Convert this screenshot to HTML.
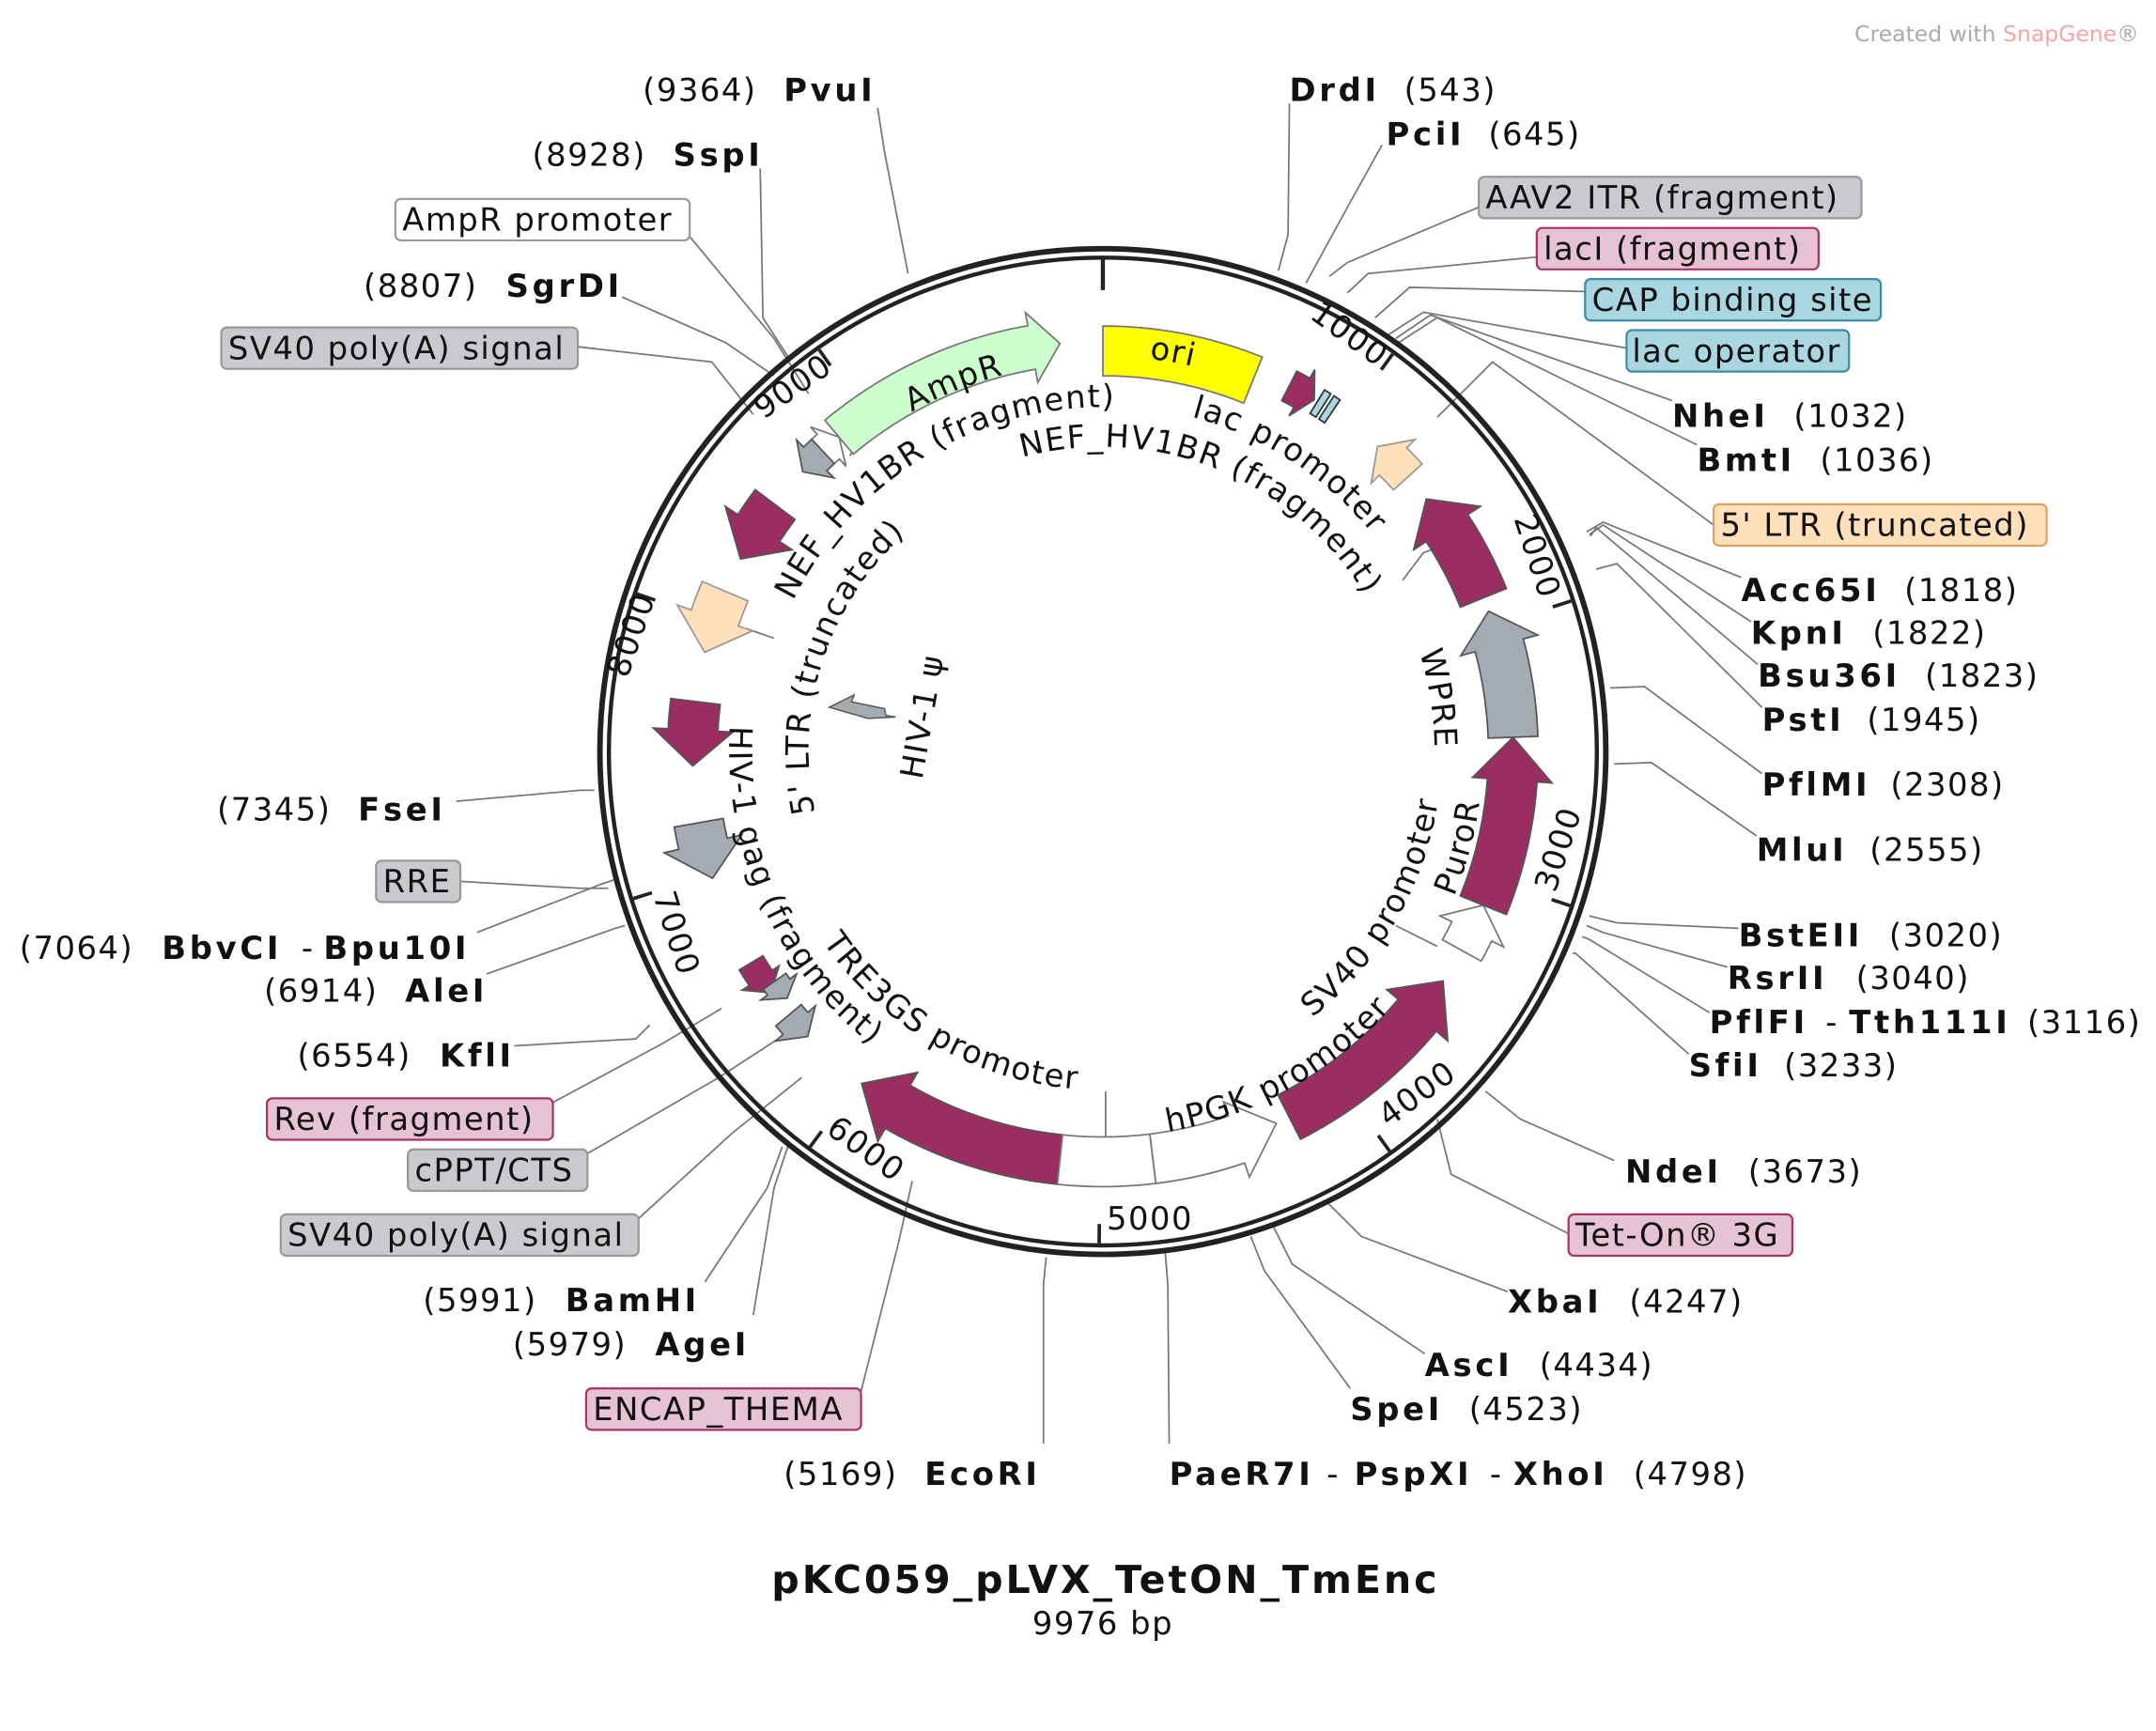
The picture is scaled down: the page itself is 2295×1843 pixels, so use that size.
<!DOCTYPE html>
<html><head><meta charset="utf-8">
<style>
html,body{margin:0;padding:0;background:#fff;}
svg{display:block;}
text{font-family:"DejaVu Sans","Liberation Sans",sans-serif;font-size:23px;fill:#111;letter-spacing:1px;}
.b{font-weight:bold;letter-spacing:2.5px;}
.ln{stroke:#777;stroke-width:1.2;fill:none;}
</style></head>
<body>
<svg id="s" width="2295" height="1843" viewBox="0 0 1560 1253" xmlns="http://www.w3.org/2000/svg" xmlns:xlink="http://www.w3.org/1999/xlink">
<defs id="defs"></defs>
<rect width="1560" height="1253" fill="#fff"/>
<text x="1342" y="30" style="font-size:16px;fill:#aaa;letter-spacing:0">Created with <tspan style="fill:#f4a6a6">SnapGene</tspan>®</text>

<g class="ln">
<polyline points="635,78 640,110 657,198"/>
<polyline points="550,122 552,230 570,258"/>
<polyline points="498,170 560,245 585,285"/>
<polyline points="450,215 525,248 560,272"/>
<polyline points="418,251 515,262 545,300"/>
<polyline points="933,75 932,170 925,196"/>
<polyline points="1000,105 975,150 945,205"/>
<polyline points="1070,150 975,190 962,200"/>
<polyline points="1112,186 990,198 975,212"/>
<polyline points="1147,211 1020,208 995,230"/>
<polyline points="1177,252 1030,226 1005,242"/>
<polyline points="1210,290 1035,228 1010,245"/>
<polyline points="1228,322 1040,230 1012,248"/>
<polyline points="1240,380 1080,262 1040,302"/>
<polyline points="1260,418 1160,378 1148,385"/>
<polyline points="1267,450 1160,380 1150,387"/>
<polyline points="1272,481 1155,382 1151,388"/>
<polyline points="1275,512 1170,408 1155,412"/>
<polyline points="1275,560 1190,497 1165,498"/>
<polyline points="1271,605 1195,552 1168,553"/>
<polyline points="1258,672 1170,668 1150,663"/>
<polyline points="1250,700 1160,675 1148,670"/>
<polyline points="1237,733 1150,680 1145,678"/>
<polyline points="1222,763 1140,690 1138,690"/>
<polyline points="1168,840 1100,810 1075,790"/>
<polyline points="1135,893 1050,850 1040,810"/>
<polyline points="1091,935 985,895 960,870"/>
<polyline points="1031,980 935,915 920,885"/>
<polyline points="977,1005 915,920 905,895"/>
<polyline points="846,1045 845,930 843,905"/>
<polyline points="755,1045 755,930 757,910"/>
<polyline points="623,1007 650,900 660,855"/>
<polyline points="545,952 560,860 570,830"/>
<polyline points="510,928 555,860 566,830"/>
<polyline points="462,882 530,820 580,780"/>
<polyline points="425,835 520,780 563,752"/>
<polyline points="400,798 480,755 522,730"/>
<polyline points="372,757 460,752 470,742"/>
<polyline points="352,705 445,672 452,670"/>
<polyline points="345,675 435,640 447,636"/>
<polyline points="333,638 420,643 440,643"/>
<polyline points="330,580 420,572 430,572"/>
<polyline points="1015,420 1030,400 1045,395"/>
<polyline points="800,790 800,825"/>
<polyline points="1010,670 1040,685"/>
<polyline points="540,455 560,462"/>
<polyline points="620,320 615,330"/>
</g>

<circle cx="798" cy="544" r="364" fill="none" stroke="#222" stroke-width="4"/>
<circle cx="798" cy="544" r="357.5" fill="none" stroke="#222" stroke-width="3"/>
<g id="ticks" stroke="#222" stroke-width="3"></g>
<g id="feat"></g>
<polygon points="600,512 618,503 616,508 640,513 641,518 648,519 628,520" fill="#a4abb3" stroke="#555" stroke-width="1"/>

<g style="font-size:22px">
<text transform="translate(972,248) rotate(36)" text-anchor="middle">1000</text>
<text transform="translate(1105,405) rotate(72)" text-anchor="middle">2000</text>
<text transform="translate(1135,617) rotate(-72)" text-anchor="middle">3000</text>
<text transform="translate(1030,798) rotate(-36)" text-anchor="middle">4000</text>
<text transform="translate(832,890)" text-anchor="middle">5000</text>
<text transform="translate(622,838) rotate(36)" text-anchor="middle">6000</text>
<text transform="translate(482,678) rotate(72)" text-anchor="middle">7000</text>
<text transform="translate(464,462) rotate(-71)" text-anchor="middle">8000</text>
<text transform="translate(578,286) rotate(-35)" text-anchor="middle">9000</text>
</g>

<g text-anchor="middle">
<text><textPath href="#pAmp" xlink:href="#pAmp" startOffset="50%">AmpR</textPath></text>
<text><textPath href="#pOri" xlink:href="#pOri" startOffset="50%">ori</textPath></text>
<text><textPath href="#pNef1" xlink:href="#pNef1" startOffset="50%">NEF_HV1BR (fragment)</textPath></text>
<text><textPath href="#pLac" xlink:href="#pLac" startOffset="50%">lac promoter</textPath></text>
<text><textPath href="#pNef2" xlink:href="#pNef2" startOffset="50%">NEF_HV1BR (fragment)</textPath></text>
<text><textPath href="#pLtr" xlink:href="#pLtr" startOffset="50%">5' LTR (truncated)</textPath></text>
<text><textPath href="#pGag" xlink:href="#pGag" startOffset="50%">HIV-1 gag (fragment)</textPath></text>
<text><textPath href="#pTre" xlink:href="#pTre" startOffset="50%">TRE3GS promoter</textPath></text>
<text><textPath href="#pPgk" xlink:href="#pPgk" startOffset="50%">hPGK promoter</textPath></text>
<text><textPath href="#pSv" xlink:href="#pSv" startOffset="50%">SV40 promoter</textPath></text>
<text><textPath href="#pPuro" xlink:href="#pPuro" startOffset="50%">PuroR</textPath></text>
<text><textPath href="#pWpre" xlink:href="#pWpre" startOffset="50%">WPRE</textPath></text>
<text transform="translate(675,520) rotate(-80)">HIV-1 ψ</text>
</g>

<g stroke-width="1.5">
<rect x="286" y="144" width="213" height="30" rx="4" fill="#fff" stroke="#999"/>
<rect x="160" y="237" width="258" height="30" rx="4" fill="#c8cacd" stroke="#999"/>
<rect x="1070" y="128" width="277" height="30" rx="4" fill="#c8cacd" stroke="#999"/>
<rect x="1112" y="165" width="204" height="30" rx="4" fill="#e6c3d3" stroke="#a83366"/>
<rect x="1147" y="202" width="214" height="30" rx="4" fill="#a9d6e0" stroke="#3a8ca6"/>
<rect x="1177" y="239" width="161" height="30" rx="4" fill="#a9d6e0" stroke="#3a8ca6"/>
<rect x="1240" y="365" width="241" height="30" rx="4" fill="#ffe0bb" stroke="#e0a060"/>
<rect x="1135" y="879" width="162" height="30" rx="4" fill="#e6c3d3" stroke="#a83366"/>
<rect x="424" y="1005" width="199" height="30" rx="4" fill="#e6c3d3" stroke="#a83366"/>
<rect x="203" y="879" width="259" height="30" rx="4" fill="#c8cacd" stroke="#999"/>
<rect x="295" y="832" width="130" height="30" rx="4" fill="#c8cacd" stroke="#999"/>
<rect x="193" y="795" width="207" height="30" rx="4" fill="#e6c3d3" stroke="#a83366"/>
<rect x="272" y="623" width="61" height="30" rx="4" fill="#c8cacd" stroke="#999"/>
</g>

<g>
<text x="465" y="73">(9364)</text><text class="b" x="567" y="73">PvuI</text>
<text x="385" y="120">(8928)</text><text class="b" x="487" y="120">SspI</text>
<text x="291" y="167">AmpR promoter</text>
<text x="263" y="215">(8807)</text><text class="b" x="366" y="215">SgrDI</text>
<text x="165" y="260">SV40 poly(A) signal</text>

<text class="b" x="933" y="73">DrdI</text><text x="1016" y="73">(543)</text>
<text class="b" x="1003" y="105">PciI</text><text x="1077" y="105">(645)</text>
<text x="1075" y="151">AAV2 ITR (fragment)</text>
<text x="1117" y="188">lacI (fragment)</text>
<text x="1152" y="225">CAP binding site</text>
<text x="1181" y="262">lac operator</text>
<text class="b" x="1210" y="309">NheI</text><text x="1298" y="309">(1032)</text>
<text class="b" x="1228" y="341">BmtI</text><text x="1317" y="341">(1036)</text>
<text x="1245" y="388">5' LTR (truncated)</text>
<text class="b" x="1260" y="435">Acc65I</text><text x="1378" y="435">(1818)</text>
<text class="b" x="1267" y="466">KpnI</text><text x="1355" y="466">(1822)</text>
<text class="b" x="1272" y="497">Bsu36I</text><text x="1393" y="497">(1823)</text>
<text class="b" x="1275" y="529">PstI</text><text x="1351" y="529">(1945)</text>
<text class="b" x="1275" y="576">PflMI</text><text x="1368" y="576">(2308)</text>
<text class="b" x="1271" y="623">MluI</text><text x="1353" y="623">(2555)</text>
<text class="b" x="1258" y="685">BstEII</text><text x="1367" y="685">(3020)</text>
<text class="b" x="1250" y="716">RsrII</text><text x="1343" y="716">(3040)</text>
<text class="b" x="1237" y="748">PflFI</text><text x="1321" y="748">-</text><text class="b" x="1338" y="748">Tth111I</text><text x="1467" y="748">(3116)</text>
<text class="b" x="1222" y="779">SfiI</text><text x="1291" y="779">(3233)</text>
<text class="b" x="1176" y="856">NdeI</text><text x="1265" y="856">(3673)</text>
<text x="1140" y="902">Tet-On® 3G</text>
<text class="b" x="1091" y="950">XbaI</text><text x="1179" y="950">(4247)</text>
<text class="b" x="1031" y="996">AscI</text><text x="1114" y="996">(4434)</text>
<text class="b" x="977" y="1028">SpeI</text><text x="1063" y="1028">(4523)</text>
<text class="b" x="846" y="1075">PaeR7I</text><text x="960" y="1075">-</text><text class="b" x="980" y="1075">PspXI</text><text x="1078" y="1075">-</text><text class="b" x="1095" y="1075">XhoI</text><text x="1182" y="1075">(4798)</text>
<text x="567" y="1075">(5169)</text><text class="b" x="669" y="1075">EcoRI</text>
<text x="429" y="1028">ENCAP_THEMA</text>
<text x="371" y="981">(5979)</text><text class="b" x="474" y="981">AgeI</text>
<text x="306" y="949">(5991)</text><text class="b" x="409" y="949">BamHI</text>
<text x="208" y="902">SV40 poly(A) signal</text>
<text x="300" y="855">cPPT/CTS</text>
<text x="198" y="818">Rev (fragment)</text>
<text x="215" y="772">(6554)</text><text class="b" x="318" y="772">KflI</text>
<text x="191" y="725">(6914)</text><text class="b" x="293" y="725">AleI</text>
<text x="14" y="694">(7064)</text><text class="b" x="117" y="694">BbvCI</text><text x="218" y="694">-</text><text class="b" x="234" y="694">Bpu10I</text>
<text x="277" y="646">RRE</text>
<text x="157" y="594">(7345)</text><text class="b" x="259" y="594">FseI</text>

<text class="b" x="800" y="1153" text-anchor="middle" style="font-size:28px;letter-spacing:2px">pKC059_pLVX_TetON_TmEnc</text>
<text x="798" y="1183" text-anchor="middle">9976 bp</text>
</g>

<script>
(function(){
var cx=798,cy=544,NS="http://www.w3.org/2000/svg";
function P(a,r){var t=a*Math.PI/180;return [(cx+r*Math.sin(t)).toFixed(2),(cy-r*Math.cos(t)).toFixed(2)];}
function arrow(a1,a2,r,w,h,fill,stroke){
  var s=a2>a1?1:-1, ah=h>0?a2-s*h:a2, sw=s>0?1:0, sw2=1-sw;
  var large=Math.abs(ah-a1)>180?1:0;
  var d="M"+P(a1,r+w)+" A"+(r+w)+","+(r+w)+" 0 "+large+" "+sw+" "+P(ah,r+w);
  if(h>0){d+=" L"+P(ah,r+w*1.6)+" L"+P(a2,r)+" L"+P(ah,r-w*1.6)+" L"+P(ah,r-w);}
  else{d+=" L"+P(ah,r-w);}
  d+=" A"+(r-w)+","+(r-w)+" 0 "+large+" "+sw2+" "+P(a1,r-w)+" Z";
  var p=document.createElementNS(NS,"path");p.setAttribute("d",d);
  p.setAttribute("fill",fill);p.setAttribute("stroke",stroke||"#555");p.setAttribute("stroke-width","1.2");
  document.getElementById("feat").appendChild(p);
}
function arc(id,c,r,cw){
  var a1=cw?c-90:c+90,a2=cw?c+90:c-90;
  var d="M"+P(a1,r)+" A"+r+","+r+" 0 0 "+(cw?1:0)+" "+P(a2,r);
  var p=document.createElementNS(NS,"path");p.setAttribute("id",id);p.setAttribute("d",d);p.setAttribute("fill","none");
  document.getElementById("defs").appendChild(p);
}
arc("pAmp",-22,282,1);
arc("pOri",10,288,1);
arc("pNef1",-31,250,1);
arc("pLac",33,252,1);
arc("pNef2",22,222,1);
arc("pLtr",-72,213,1);
arc("pGag",246,272,0);
arc("pTre",210,245,0);
arc("pPgk",151,280,0);
arc("pSv",120,246,0);
arc("pPuro",105,275,0);
arc("pWpre",81,240,1);

var M="#9b2d62",G="#a4abb3",PE="#ffe0bb",W="#ffffff";
arrow(0,22,290,18,0,"#ffff00","#777");
arrow(-40,-6,297,16,4,"#ccffcc","#777");
arrow(-43,-40,297,12,2,W,"#777");
arrow(-43,-47,297,12,2.5,G);
arrow(-53,-62,297,18,5,M);
arrow(-67,-76,297,18,5,PE,"#999");
arrow(-83,-92,297,18,5,M);
arrow(-100,-108,297,18,5,G);
arrow(-121,-126,297,10,2.5,M);
arrow(-125,-128,290,10,2,G);
arrow(-130,-134,297,12,2.5,G);
arrow(186,216,297,18,6,M);
arrow(173,186,297,18,0,W,"#777");
arrow(173,155,297,18,6,W,"#777");
arrow(153,124,297,18,6,M);
arrow(119,112,297,16,4,W,"#777");
arrow(112,88,297,18,6,M);
arrow(88,70,297,18,5,G);
arrow(68,52,297,18,5,M);
arrow(48,42,297,14,3,PE,"#999");
arrow(27,31,297,12,2,M);
arrow(31.5,32.5,297,10,0,"#a9d6e0","#333");
arrow(33,34,297,10,0,"#a9d6e0","#333");
var tg=document.getElementById("ticks");
function tick(a,r1,r2,sw){var p1=P(a,r1),p2=P(a,r2);var l=document.createElementNS(NS,"line");
l.setAttribute("x1",p1[0]);l.setAttribute("y1",p1[1]);l.setAttribute("x2",p2[0]);l.setAttribute("y2",p2[1]);l.setAttribute("stroke-width",sw);tg.appendChild(l);}
tick(0,356,334,3);
for(var k=1;k<=9;k++){tick(k*1000/9976*360,356,342,2.5);}
})();
</script>
</svg>
</body></html>
